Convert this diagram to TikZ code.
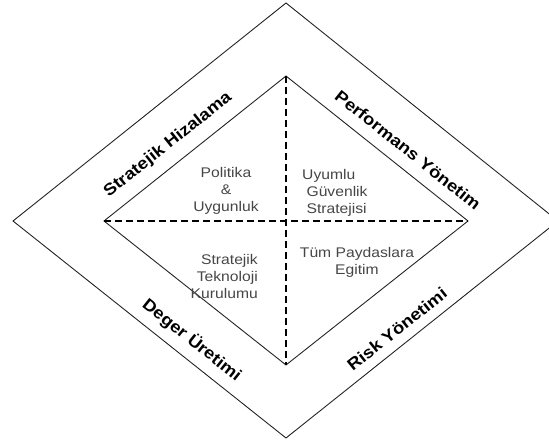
\documentclass[tikz,border=0pt]{standalone}
\usepackage{fontspec}
\setmainfont{Liberation Sans}
\newfontfamily\widefont{Liberation Sans}[FakeStretch=1.12]
\usetikzlibrary{positioning}
\definecolor{mygray}{RGB}{70,70,70}
\definecolor{mydark}{RGB}{35,35,35}

\begin{document}
\begin{tikzpicture}[x=1pt, y=-1pt,
    area_text/.style={font=\widefont\fontsize{14}{17}\selectfont, text=mygray, inner sep=0pt},
    band_text/.style={font=\widefont\fontsize{16.5}{18}\selectfont\bfseries, text=black, inner sep=0pt},
    edge_line/.style={draw=mydark, line width=0.9pt},
    split_line/.style={draw=black, line width=1.5pt, dash pattern=on 7pt off 4pt}]
    \useasboundingbox (0,0) rectangle (549,441);
    \clip (0,0) rectangle (549,441);

    % Outer diamond
    \coordinate (out_top) at (286,3);
    \coordinate (out_left) at (13,221);
    \coordinate (out_bottom) at (286,438);
    \coordinate (out_right) at (558,221);
    \draw[edge_line] (out_top) -- (out_right) -- (out_bottom) -- (out_left) -- cycle;

    % Inner diamond
    \coordinate (in_top) at (286,76);
    \coordinate (in_left) at (104,221);
    \coordinate (in_bottom) at (286,365);
    \coordinate (in_right) at (468,221);
    \draw[edge_line] (in_top) -- (in_right) -- (in_bottom) -- (in_left) -- cycle;

    % Dashed quadrant split
    \draw[split_line] (in_top) -- (in_bottom);
    \draw[split_line] (in_left) -- (in_right);

    % Quadrant texts
    \node[area_text, align=center] (policy) at (226,191) {Politika\\\&\\Uygunluk};
    \node[area_text, align=left, anchor=west] (security) at (302,193) {Uyumlu\\\ Güvenlik\\\ Stratejisi};
    \node[area_text, align=right, anchor=east] (technology) at (258,276) {Stratejik\\Teknoloji\\Kurulumu};
    \node[area_text, align=center] (training) at (357,262) {Tüm Paydaslara\\Egitim};

    % Band labels
    \node[band_text, rotate=38.5] (alignment) at (168,145) {Stratejik Hizalama};
    \node[band_text, rotate=-38.5] (performance) at (408,150) {Performans Yönetim};
    \node[band_text, rotate=-38.5] (value) at (192,340) {Deger Üretimi};
    \node[band_text, rotate=38.5] (risk) at (397,329) {Risk Yönetimi};
\end{tikzpicture}
\end{document}
